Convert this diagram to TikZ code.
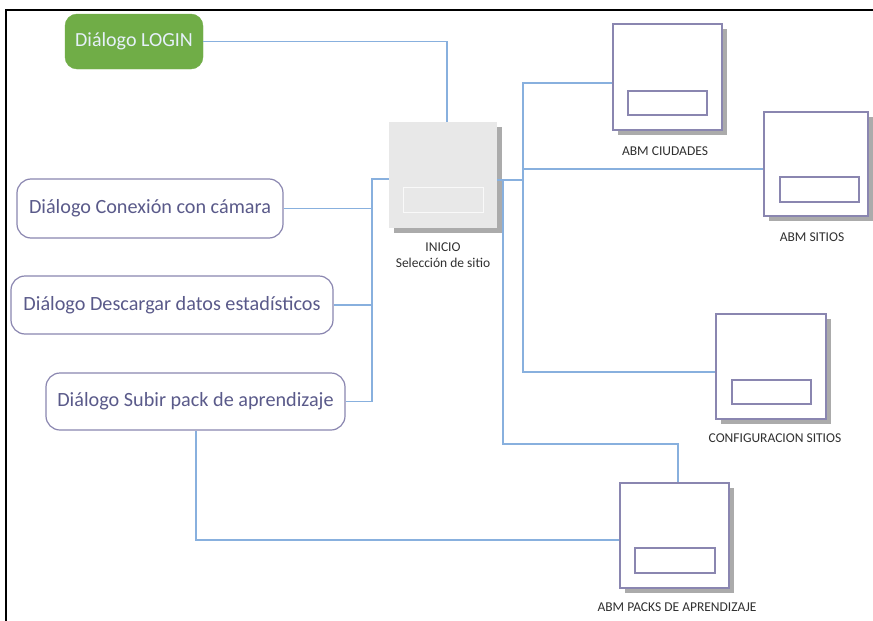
\documentclass[tikz,border=0pt]{standalone}
\usepackage{fontspec}
\setmainfont{Carlito}
\usetikzlibrary{shadows}
\definecolor{conn}{HTML}{88B0DE}
\definecolor{bord}{HTML}{8A86B0}
\definecolor{txt}{HTML}{5A5A8A}
\definecolor{lgreen}{HTML}{70AD47}
\definecolor{ltxt}{HTML}{E6F0FA}
\definecolor{shad}{HTML}{ABABAB}
\definecolor{ini}{HTML}{E8E8E8}
\definecolor{lbl}{HTML}{303030}
\tikzset{
  conline/.style={draw=conn, line width=1.3pt},
  dlg/.style={draw=bord, line width=1.2pt, rounded corners=14pt, fill=white, text=txt,
    font=\fontsize{20.2}{22}\selectfont, inner sep=0pt},
  logindlg/.style={fill=lgreen, draw=lgreen, rounded corners=12pt, text=ltxt,
    font=\fontsize{20}{22}\selectfont, inner sep=0pt},
  screen/.style={draw=bord, line width=1.2pt, fill=white, inner sep=0pt,
    drop shadow={shadow xshift=5pt, shadow yshift=-5pt, fill=shad, opacity=1}},
  inscreen/.style={draw=bord, line width=1.2pt, fill=white, inner sep=0pt},
  lbltext/.style={text=lbl, font=\fontsize{13.5}{16}\selectfont, inner sep=0pt, align=center}
}
\begin{document}
\begin{tikzpicture}[x=1pt,y=-1pt]
\useasboundingbox (0,0) rectangle (873,621);
\fill[white] (0,0) rectangle (873,621);
% frame
\draw[black, line width=1.8pt] (6,621) -- (6,10) -- (873,10);

% login dialog
\node[logindlg, minimum width=138pt, minimum height=55pt] (login) at (134,41.5) {Diálogo LOGIN};

% left dialogs
\node[dlg, minimum width=266pt, minimum height=59pt] (con) at (150,208.5) {Diálogo Conexión con cámara};
\node[dlg, minimum width=322pt, minimum height=58pt] (des) at (172,305) {Diálogo Descargar datos estadísticos};
\node[dlg, minimum width=299pt, minimum height=57pt] (sub) at (195.5,401.5) {Diálogo Subir pack de aprendizaje};

% INICIO
\node[draw=none, fill=ini, minimum width=108pt, minimum height=106pt, inner sep=0pt,
  drop shadow={shadow xshift=5pt, shadow yshift=-5pt, fill=shad, opacity=1}] (inicio) at (443,175) {};
\node[draw=white!95!gray, line width=1pt, fill=ini, minimum width=80pt, minimum height=25pt, inner sep=0pt] (inicio-in) at (443,199.5) {};
\node[lbltext] (inicio-lbl) at (443,255.5) {INICIO\\Selección de sitio};

% ABM CIUDADES
\node[screen, minimum width=109pt, minimum height=106pt] (ciu) at (667.5,77) {};
\node[inscreen, minimum width=79pt, minimum height=24pt] (ciu-in) at (667.5,103) {};
\node[lbltext] (ciu-lbl) at (665,151) {ABM CIUDADES};

% ABM SITIOS
\node[screen, minimum width=104pt, minimum height=104pt] (sit) at (816,164) {};
\node[inscreen, minimum width=79pt, minimum height=25pt] (sit-in) at (819.5,189.5) {};
\node[lbltext] (sit-lbl) at (812,237) {ABM SITIOS};

% CONFIGURACION SITIOS
\node[screen, minimum width=110pt, minimum height=105pt] (cfg) at (771,366.5) {};
\node[inscreen, minimum width=79pt, minimum height=24pt] (cfg-in) at (771.5,392) {};
\node[lbltext] (cfg-lbl) at (775,438) {CONFIGURACION SITIOS};

% ABM PACKS DE APRENDIZAJE
\node[screen, minimum width=109pt, minimum height=105pt] (pak) at (674.5,535.5) {};
\node[inscreen, minimum width=80pt, minimum height=25pt] (pak-in) at (675,560.5) {};
\node[lbltext] (pak-lbl) at (677,607) {ABM PACKS DE APRENDIZAJE};

% helper coordinates
\coordinate (lbus) at (372,179);
\coordinate (rbus) at (523,180);
\coordinate (rbus2) at (503,180);
\coordinate (yciu) at (0,83);
\coordinate (ysit) at (0,169);
\coordinate (ycfg) at (0,372);
\coordinate (ypak) at (0,444);
\coordinate (ysub) at (0,540);
\coordinate (xlog) at (447,0);
\coordinate (xpak) at (678,0);

% connectors
\draw[conline] (login.east) -| (xlog |- inicio.north);
\draw[conline] (con.east) -| (lbus) -- (lbus -| inicio.west);
\draw[conline] (des.east) -| (lbus);
\draw[conline] (sub.east) -| (lbus);
\draw[conline] (rbus -| inicio.east) -- (rbus);
\draw[conline] (rbus) |- (ciu.west |- yciu);
\draw[conline] (rbus) |- (sit.west |- ysit);
\draw[conline] (rbus) |- (cfg.west |- ycfg);
\draw[conline] (rbus2) -- (rbus2 |- ypak) -| (xpak |- pak.north);
\draw[conline] (sub.south -| 196,0) |- (pak.west |- ysub);
\end{tikzpicture}
\end{document}
